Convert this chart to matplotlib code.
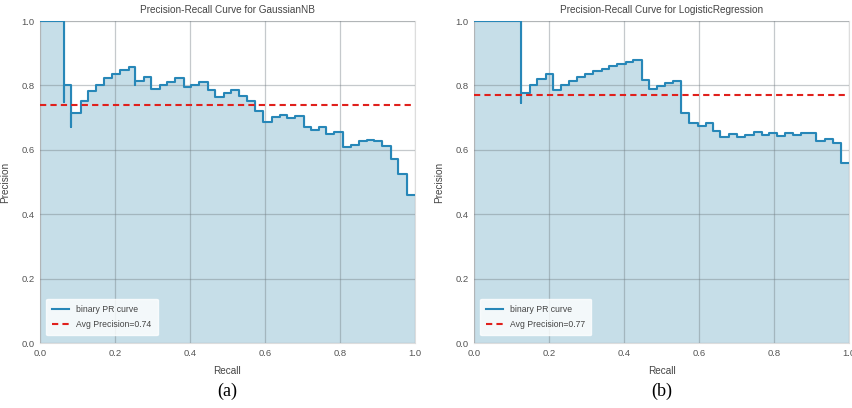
import numpy as np
import matplotlib
matplotlib.use("Agg")
import matplotlib.pyplot as plt

# step points (recall, precision) for each classifier, where='post'
nb_recall = [0.0, 0.0635, 0.0635, 0.083, 0.083, 0.108, 0.127, 0.148, 0.17, 0.192,
             0.213, 0.237, 0.254, 0.254, 0.277, 0.296, 0.319, 0.34, 0.361, 0.383,
             0.403, 0.425, 0.447, 0.467, 0.49, 0.509, 0.532, 0.552, 0.574, 0.594,
             0.618, 0.639, 0.66, 0.68, 0.703, 0.722, 0.745, 0.763, 0.785, 0.807,
             0.829, 0.852, 0.871, 0.891, 0.913, 0.935, 0.956, 0.978, 1.0]
nb_precision = [1.0, 0.75, 0.80, 0.672, 0.716, 0.752, 0.783, 0.802, 0.822, 0.836,
                0.848, 0.858, 0.80, 0.815, 0.826, 0.788, 0.80, 0.812, 0.822, 0.794,
                0.80, 0.812, 0.787, 0.765, 0.777, 0.786, 0.767, 0.752, 0.722, 0.688,
                0.701, 0.709, 0.698, 0.705, 0.67, 0.662, 0.67, 0.65, 0.655, 0.61,
                0.615, 0.627, 0.631, 0.627, 0.613, 0.573, 0.526, 0.46, 0.46]
nb_avg = 0.74

lr_recall = [0.0, 0.126, 0.126, 0.149, 0.168, 0.191, 0.211, 0.233, 0.254, 0.275,
             0.295, 0.318, 0.34, 0.36, 0.382, 0.405, 0.424, 0.447, 0.467, 0.488,
             0.509, 0.531, 0.553, 0.574, 0.598, 0.618, 0.638, 0.657, 0.68, 0.702,
             0.722, 0.746, 0.767, 0.787, 0.809, 0.829, 0.851, 0.871, 0.913, 0.935,
             0.957, 0.978, 1.0]
lr_precision = [1.0, 0.747, 0.776, 0.80, 0.82, 0.835, 0.786, 0.80, 0.815, 0.825,
                0.835, 0.846, 0.852, 0.86, 0.867, 0.873, 0.878, 0.817, 0.79, 0.797,
                0.807, 0.813, 0.714, 0.683, 0.674, 0.683, 0.659, 0.641, 0.648, 0.641,
                0.647, 0.655, 0.645, 0.651, 0.643, 0.651, 0.645, 0.652, 0.627, 0.635,
                0.62, 0.559, 0.559]
lr_avg = 0.77

panels = [
    ("GaussianNB", nb_recall, nb_precision, nb_avg, "(a)"),
    ("LogisticRegression", lr_recall, lr_precision, lr_avg, "(b)"),
]
ticks = [0.0, 0.2, 0.4, 0.6, 0.8, 1.0]

LINE = "#2787b8"
FILL = "#c6dee8"
RED = "#e0201c"
TXT = "#555555"

plt.rcParams["font.family"] = ["Liberation Sans", "DejaVu Sans"]

fig = plt.figure(figsize=(8.53, 4.08), dpi=100)
lefts = [0.0469, 0.5557]

for left, (name, rec, prec, avg, tag) in zip(lefts, panels):
    assert len(rec) == len(prec)
    ax = fig.add_axes([left, 0.1593, 0.4396, 0.789])
    ax.set_facecolor("white")
    ax.fill_between(rec, prec, step="post", color=FILL, zorder=1)
    ax.grid(True, color="#707a80", alpha=0.4, linewidth=0.9, zorder=2)
    ax.set_axisbelow(False)
    ax.step(rec, prec, where="post", color=LINE, linewidth=1.5,
            label="binary PR curve", zorder=3)
    ax.axhline(avg, color=RED, linestyle="--", linewidth=1.5, dashes=(3, 2),
               label="Avg Precision={:0.2f}".format(avg), zorder=3)
    ax.set_xlim(0, 1)
    ax.set_ylim(0, 1)
    ax.set_xticks(ticks)
    ax.set_yticks(ticks)
    ax.tick_params(length=0, labelsize=6.8, labelcolor=TXT, pad=4)
    for s in ax.spines.values():
        s.set_color("#dddddd")
        s.set_linewidth(0.8)
    ax.set_title("Precision-Recall Curve for " + name, fontsize=7.2, color="#444444", pad=6)
    ax.set_xlabel("Recall", fontsize=7.2, color="#444444", labelpad=6)
    ax.set_ylabel("Precision", fontsize=7.2, color="#444444", labelpad=8)
    leg = ax.legend(loc="lower left", fontsize=6.2, frameon=True, handlelength=2.0,
                    borderpad=0.7, labelspacing=0.8, bbox_to_anchor=(0.005, 0.01))
    leg.get_frame().set_facecolor("white")
    leg.get_frame().set_alpha(0.8)
    leg.get_frame().set_edgecolor("white")
    for t in leg.get_texts():
        t.set_color("#444444")
    fig.text(left + 0.4396 / 2, 0.02, tag, ha="center", va="bottom",
             fontsize=13, family="Liberation Serif")

fig.savefig("out.png", dpi=100)
